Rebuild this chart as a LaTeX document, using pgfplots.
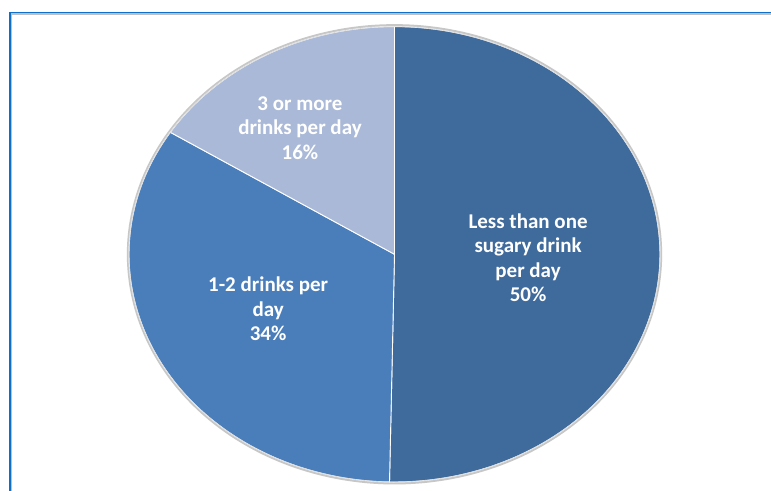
\documentclass[border=0pt]{standalone}
\usepackage{pgfplots}
\pgfplotsset{compat=1.18}
\usepackage{fontspec}
\setmainfont{Carlito}
\definecolor{cLess}{HTML}{3F6A9C}
\definecolor{cOneTwo}{HTML}{4A7EBB}
\definecolor{cThree}{HTML}{AAB9D7}
\definecolor{frameblue}{HTML}{0F6FCC}
\definecolor{framegrey}{HTML}{C0C0C0}
% slice shares (percent), clockwise from the top
\def\vLess{50.3}
\def\vOneTwo{33.7}
\def\vThree{16.0}
\pgfmathsetmacro{\aA}{90}
\pgfmathsetmacro{\aB}{\aA-3.6*\vLess}
\pgfmathsetmacro{\aC}{\aB-3.6*\vOneTwo}
\pgfmathsetmacro{\aD}{\aC-3.6*\vThree}
\begin{document}
\begin{tikzpicture}[x=1pt,y=1pt]
\useasboundingbox (0,0) rectangle (771,490);
\fill[white] (0,0) rectangle (771,490);
% frame
\draw[framegrey, line width=1.8pt] (11.4,-20) -- (11.4,475.6) -- (800,475.6);
\draw[frameblue, line width=1.8pt] (9.6,-20) -- (9.6,477.4) -- (800,477.4);
\begin{axis}[
  at={(394.5pt,235.7pt)}, anchor=center,
  scale only axis, width=531pt, height=455.4pt,
  xmin=-1, xmax=1, ymin=-1, ymax=1,
  hide axis, clip=false,
]
% shadow / outline
\addplot[draw=black!22, line width=2.2pt, domain=0:360, samples=240, smooth]
  ({1.004*cos(x)},{1.006*sin(x)});
\addplot[fill=cLess, draw=white, line width=0.9pt, domain=\aA:\aB, samples=120]
  ({cos(x)},{sin(x)}) -- (axis cs:0,0) -- cycle;
\addplot[fill=cOneTwo, draw=white, line width=0.9pt, domain=\aB:\aC, samples=100]
  ({cos(x)},{sin(x)}) -- (axis cs:0,0) -- cycle;
\addplot[fill=cThree, draw=white, line width=0.9pt, domain=\aC:\aD, samples=60]
  ({cos(x)},{sin(x)}) -- (axis cs:0,0) -- cycle;
\addplot[draw=black!15, line width=0.6pt, domain=0:360, samples=240, smooth]
  ({cos(x)},{sin(x)});
\node[white, font=\bfseries\fontsize{21}{24.5}\selectfont, align=center]
  at (axis cs:0.503,-0.016) {Less than one\\sugary drink\\per day\\50\%};
\node[white, font=\bfseries\fontsize{21}{24.5}\selectfont, align=center]
  at (axis cs:-0.476,-0.24) {1-2 drinks per\\day\\34\%};
\node[white, font=\bfseries\fontsize{21}{24.5}\selectfont, align=center]
  at (axis cs:-0.356,0.555) {3 or more\\drinks per day\\16\%};
\end{axis}
\end{tikzpicture}
\end{document}
